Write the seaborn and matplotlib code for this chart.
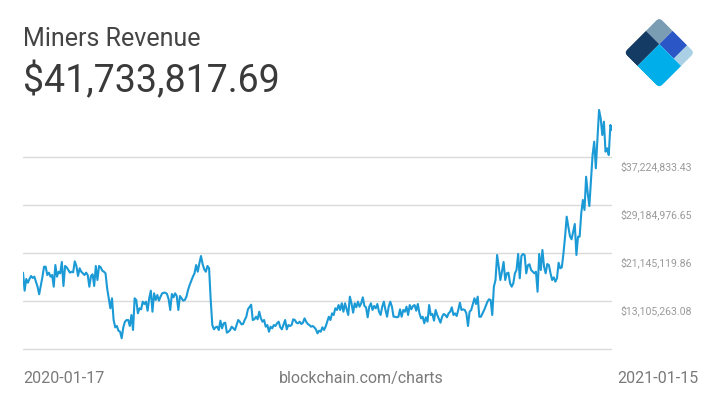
import numpy as np
import pandas as pd
import matplotlib
matplotlib.use("Agg")
import matplotlib.pyplot as plt
import seaborn as sns
from matplotlib.patches import Rectangle, FancyBboxPatch
from matplotlib.transforms import Affine2D

# ---------------- data ----------------
title = "Miners Revenue"
headline_value = "$41,733,817.69"
source_label = "blockchain.com/charts"
start_date = "2020-01-17"

day_offset = [*range(0, 11), *range(12, 140), *range(141, 161),
              *range(162, 257), *range(258, 365)]

revenue_musd = [
    17.85, 14.83, 16.79, 16.17, 16.79, 17.29, 16.96, 17.18, 16.34, 15.50, 14.23,
    17.13, 18.85, 18.85, 17.46, 17.85, 17.18, 17.46, 15.50, 19.13, 17.18,
    18.01, 17.74, 19.64, 15.62, 18.97, 18.75, 18.30, 17.85, 18.01, 17.91,
    19.75, 18.97, 17.29, 18.58, 18.01, 17.74, 17.46, 17.85, 17.46, 15.50,
    17.29, 17.58, 15.62, 18.97, 16.62, 18.97, 18.75, 18.18, 18.01, 17.74,
    15.23, 13.56, 11.88, 13.56, 9.92, 8.70, 8.92, 8.13, 7.96, 6.86,
    8.70, 9.64, 9.92, 9.92, 8.92, 10.76, 8.25, 13.56, 13.27, 11.04,
    11.88, 11.71, 12.99, 12.60, 12.99, 11.48, 13.56, 14.83, 11.31, 14.39,
    13.27, 14.11, 13.16, 13.83, 14.39, 14.49, 14.49, 14.28, 13.39, 11.60,
    14.28, 13.72, 14.39, 13.94, 11.60, 13.94, 13.56, 13.16, 13.27, 13.83,
    14.95, 15.79, 16.50, 17.18, 17.74, 19.13, 18.01, 19.42, 20.64, 19.30,
    18.41, 18.01, 18.97, 18.58, 13.27, 9.08, 8.36, 8.70, 8.80, 8.25,
    9.81, 8.53, 9.37, 9.47, 7.80, 7.96, 8.25, 8.80, 8.53, 8.25,
    9.08, 9.92, 9.64, 9.20, 9.25, 9.92, 10.47, 11.71,
    12.49, 9.92, 10.04, 10.47, 10.04, 11.31, 10.20, 9.64, 9.92, 8.80,
    9.08, 7.96, 8.80, 8.53, 9.08, 8.92, 9.37, 9.64, 8.70, 8.36,
    9.92, 8.36, 9.08, 8.92, 9.08, 10.04, 9.92, 9.47, 9.37, 9.64,
    9.25, 9.47, 10.20, 9.64, 9.25, 9.08, 8.80, 8.92, 8.70, 8.36,
    7.69, 8.13, 7.96, 8.70, 8.25, 8.80, 9.64, 10.47, 9.92, 11.04,
    10.76, 11.88, 11.60, 12.43, 11.60, 12.72, 11.31, 12.72, 11.71, 10.76,
    13.83, 12.72, 11.15, 12.72, 12.05, 12.99, 12.15, 12.72, 13.72, 12.27,
    12.05, 10.37, 12.15, 12.72, 11.60, 12.27, 11.88, 12.60, 11.31, 10.76,
    12.15, 12.99, 11.60, 10.47, 12.15, 12.99, 12.15, 10.47, 10.47, 10.37,
    10.47, 11.71, 10.47, 11.60, 11.31, 12.15, 10.76, 12.43, 11.71, 12.27,
    12.43, 11.48, 12.60, 11.04, 10.20, 10.47, 9.37, 10.37, 9.64, 12.43,
    10.76, 10.93, 9.81, 11.60, 10.76,
    9.47, 10.47, 10.93, 10.76, 10.37, 11.04, 11.31, 12.05, 10.76, 11.04,
    10.59, 11.60, 12.82, 11.60, 11.71, 11.60, 11.04, 8.92, 11.31, 11.60,
    12.60, 13.56, 12.60, 13.83, 10.47, 10.47, 11.04, 11.60, 12.27, 12.99,
    13.39, 13.27, 10.76, 15.50, 16.62, 20.81, 18.85, 16.62, 18.01, 19.64,
    16.62, 17.74, 17.85, 16.07, 15.50, 16.07, 17.74, 18.30, 20.98, 16.91,
    20.64, 20.98, 20.81, 17.74, 19.09, 19.26, 18.30, 18.01, 17.74, 18.01,
    14.66, 20.98, 18.30, 21.65, 18.85, 17.74, 19.30, 19.13, 17.74, 16.62,
    17.07, 16.34, 16.91, 19.52, 18.58, 18.75, 21.09, 23.88, 27.23, 25.55,
    23.99, 23.44, 24.71, 26.00, 20.81, 23.88, 23.88, 27.79, 30.02, 28.35,
    33.92, 31.14, 29.02, 33.37, 37.56, 39.79, 35.33, 40.07, 45.10, 43.71,
    40.91, 43.14, 38.11, 38.68, 37.56, 42.59, 41.733818,
]

grid_values = [5065406.30, 13105263.08, 21145119.86, 29184976.65, 37224833.43]
grid_labels = ["", "$13,105,263.08", "$21,145,119.86", "$29,184,976.65", "$37,224,833.43"]

df = pd.DataFrame({
    "date": pd.Timestamp(start_date) + pd.to_timedelta(day_offset, unit="D"),
    "revenue": np.array(revenue_musd) * 1e6,
})

# ---------------- style ----------------
sns.set_theme(style="white")
plt.rcParams["font.family"] = ["Roboto", "DejaVu Sans"]

W, H = 720, 405
fig = plt.figure(figsize=(W / 100, H / 100), dpi=100)
fig.patch.set_facecolor("white")


def fx(x):
    return x / W


def fy(y):
    return 1 - y / H


# main axes (pixel box: x 23..612, y 100..352)
ax = fig.add_axes([fx(23), fy(352), (612 - 23) / W, (352 - 100) / H])
sns.lineplot(data=df, x="date", y="revenue", ax=ax, color="#1b9ad6",
             linewidth=1.5, solid_joinstyle="round", solid_capstyle="round")
ax.set_xlim(df["date"].iloc[0], df["date"].iloc[-1])
ax.set_ylim(4.563e6, 46.77e6)
ax.set_yticks(grid_values)
ax.set_yticklabels([])
ax.set_xticks([])
ax.tick_params(length=0)
ax.grid(axis="y", color="#dadada", linewidth=1.0)
ax.grid(axis="x", visible=False)
ax.set_axisbelow(True)
ax.set_xlabel("")
ax.set_ylabel("")
for s in ax.spines.values():
    s.set_visible(False)
ax.patch.set_alpha(0)

for val, lab in zip(grid_values, grid_labels):
    if lab:
        ax.annotate(lab, xy=(1, val), xycoords=("axes fraction", "data"),
                    xytext=(8, -4), textcoords="offset pixels",
                    ha="left", va="top", fontsize=7.6, color="#9a9a9a")

# header texts
fig.text(fx(23), fy(46), title, fontsize=18, color="#444444", va="baseline", ha="left")
fig.text(fx(23), fy(92), headline_value, fontsize=27, color="#3a3a3a",
         va="baseline", ha="left")

# footer texts
first_label = df["date"].iloc[0].strftime("%Y-%m-%d")
last_label = df["date"].iloc[-1].strftime("%Y-%m-%d")
fig.text(fx(23), fy(383), first_label, fontsize=11.5, color="#7a7a7a", va="baseline", ha="left")
fig.text(fx(361), fy(383), source_label, fontsize=11.5, color="#7a7a7a", va="baseline", ha="center")
fig.text(fx(698), fy(383), last_label, fontsize=11.5, color="#7a7a7a", va="baseline", ha="right")

# logo
lax = fig.add_axes([fx(620), fy(95), 80 / W, 80 / H])
lax.set_xlim(0, 80)
lax.set_ylim(0, 80)
lax.axis("off")
L = 50
tr = Affine2D().scale(L, -L).rotate_deg(-45).translate(39.3, 77.7) + lax.transData
clip = FancyBboxPatch((0, 0), 1, 1, boxstyle="round,pad=0,rounding_size=0.1",
                      transform=tr, facecolor="none", edgecolor="none")
lax.add_patch(clip)
pieces = [
    ((0.00, 0.00), 0.38, 0.38, "#7b9db4"),
    ((0.38, 0.00), 0.41, 0.38, "#2b56c5"),
    ((0.79, 0.00), 0.21, 0.38, "#aad0e6"),
    ((0.00, 0.38), 0.38, 0.62, "#133b63"),
    ((0.38, 0.38), 0.62, 0.62, "#00aeea"),
]
for xy, w, h, c in pieces:
    r = Rectangle(xy, w, h, transform=tr, facecolor=c, edgecolor="none")
    lax.add_patch(r)
    r.set_clip_path(clip)

fig.savefig("out.png", dpi=100, facecolor="white")
